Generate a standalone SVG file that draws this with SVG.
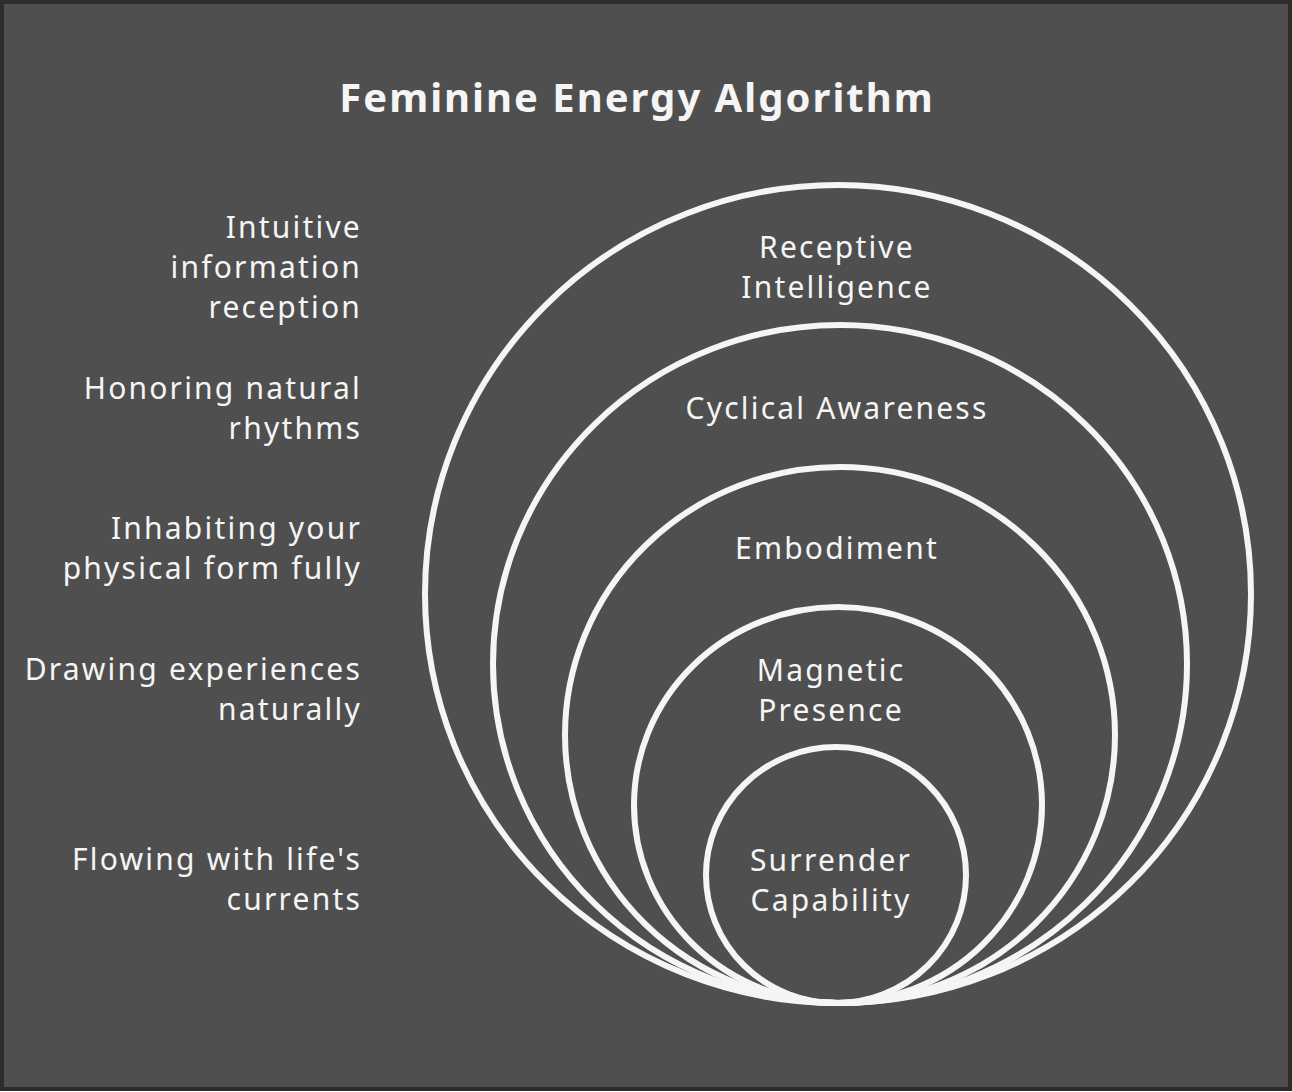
<svg xmlns="http://www.w3.org/2000/svg" width="1292" height="1092" viewBox="0 0 1292 1092">
<style>
.bg{fill:#4f4f4f;stroke:#2d2d2d;stroke-width:4}
.ring{fill:none;stroke:#f5f5f5;stroke-width:6}
.t{font-family:"Noto Sans",Lato,sans-serif;font-size:30px;letter-spacing:2.2px;fill:#f5f5f5}
.l{text-anchor:end}
.c{text-anchor:middle}
.title{font-family:"Noto Sans",Lato,sans-serif;font-size:40px;font-weight:bold;letter-spacing:2px;fill:#f5f5f5;text-anchor:middle}
</style>
<rect class="bg" x="2" y="2" width="1288" height="1087"/>
<text class="title" x="637" y="112">Feminine Energy Algorithm</text>
<g id="connectors"></g>
<g id="ring1"><ellipse class="ring" cx="838" cy="594" rx="413" ry="409"/>
<text class="t c" x="837" y="258">Receptive</text><text class="t c" x="837" y="298">Intelligence</text></g>
<g id="ring2"><ellipse class="ring" cx="840" cy="664" rx="347" ry="339"/>
<text class="t c" x="837" y="419">Cyclical Awareness</text></g>
<g id="ring3"><ellipse class="ring" cx="840" cy="735" rx="275" ry="268"/>
<text class="t c" x="837" y="559">Embodiment</text></g>
<g id="ring4"><ellipse class="ring" cx="838" cy="805" rx="204" ry="198"/>
<text class="t c" x="831" y="681">Magnetic</text><text class="t c" x="831" y="721">Presence</text></g>
<g id="ring5"><ellipse class="ring" cx="836" cy="875" rx="130" ry="128"/>
<text class="t c" x="831" y="871">Surrender</text><text class="t c" x="831" y="911">Capability</text></g>
<g id="desc1"><text class="t l" x="362" y="238">Intuitive</text><text class="t l" x="362" y="278">information</text><text class="t l" x="362" y="318">reception</text></g>
<g id="desc2"><text class="t l" x="362" y="399">Honoring natural</text><text class="t l" x="362" y="439">rhythms</text></g>
<g id="desc3"><text class="t l" x="362" y="539">Inhabiting your</text><text class="t l" x="362" y="579">physical form fully</text></g>
<g id="desc4"><text class="t l" x="362" y="680">Drawing experiences</text><text class="t l" x="362" y="720">naturally</text></g>
<g id="desc5"><text class="t l" x="362" y="870">Flowing with life's</text><text class="t l" x="362" y="910">currents</text></g>
</svg>
